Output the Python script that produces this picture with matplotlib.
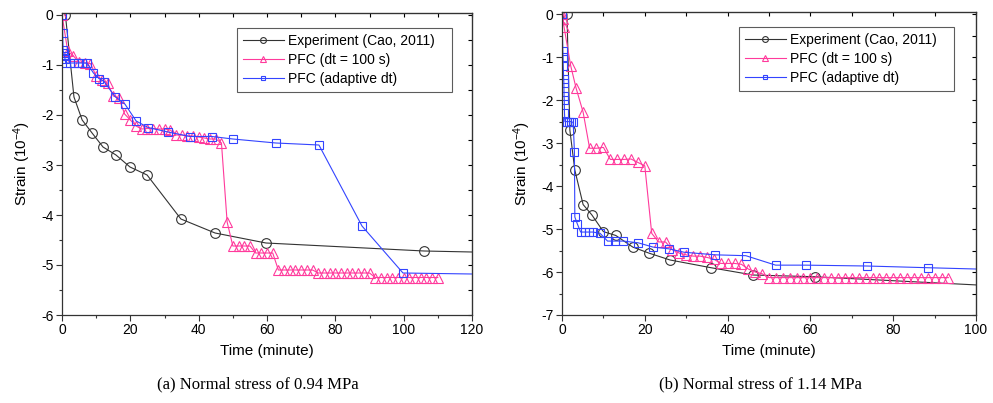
import matplotlib
matplotlib.use("Agg")
import matplotlib.pyplot as plt
from matplotlib.ticker import MultipleLocator

plt.rcParams['font.family'] = ['Liberation Sans', 'DejaVu Sans']
plt.rcParams['mathtext.fontset'] = 'custom'
plt.rcParams['mathtext.rm'] = 'Liberation Sans'
plt.rcParams['mathtext.it'] = 'Liberation Sans:italic'

# ---- (a) normal stress 0.94 MPa ----
a_exp_t = [1, 3.5, 5.9, 8.8, 12, 15.8, 19.9, 24.9, 34.8, 44.8, 59.7, 106, 120]
a_exp_s = [0, -1.64, -2.1, -2.36, -2.64, -2.8, -3.04, -3.2, -4.08, -4.36, -4.56, -4.72, -4.74]

a_dt_t = [0, 1.67, 3.33, 5, 6.67, 8.33, 10, 11.67, 13.33, 15, 16.67, 18.33, 20, 21.67,
          23.33, 25, 26.67, 28.33, 30, 31.67, 33.33, 35, 36.67, 38.33, 40, 41.67, 43.33,
          45, 46.67, 48.33, 50, 51.67, 53.33, 55, 56.67, 58.33, 60, 61.67, 63.33, 65,
          66.67, 68.33, 70, 71.67, 73.33, 75, 76.67, 78.33, 80, 81.67, 83.33, 85, 86.67,
          88.33, 90, 91.67, 93.33, 95, 96.67, 98.33, 100, 101.67, 103.33, 105, 106.67,
          108.33, 110]
a_dt_s = [0, -0.72, -0.82, -0.94, -0.96, -0.97, -1.22, -1.3, -1.36, -1.62, -1.66, -1.98,
          -2.1, -2.22, -2.28, -2.27, -2.27, -2.28, -2.28, -2.3, -2.4, -2.4, -2.42, -2.42,
          -2.44, -2.46, -2.48, -2.48, -2.56, -4.14, -4.62, -4.62, -4.62, -4.62, -4.76,
          -4.76, -4.76, -4.76, -5.1, -5.1, -5.1, -5.1, -5.1, -5.1, -5.1, -5.16, -5.16,
          -5.16, -5.16, -5.16, -5.16, -5.16, -5.16, -5.16, -5.16, -5.25, -5.25, -5.25,
          -5.25, -5.25, -5.25, -5.25, -5.25, -5.25, -5.25, -5.25, -5.25]

a_ad_t = [0, 0.2, 0.3, 0.5, 0.7, 0.9, 1.1, 2.3, 3.5, 4.7, 5.9, 7.3, 9.2, 10.8, 12.3,
          15.5, 18.4, 21.7, 25.2, 31, 37.5, 43.9, 50, 62.6, 75.2, 87.8, 99.8, 120]
a_ad_s = [0, -0.35, -0.7, -0.76, -0.82, -0.88, -0.96, -0.96, -0.96, -0.96, -0.96,
          -0.96, -1.16, -1.27, -1.33, -1.63, -1.78, -2.12, -2.25, -2.34, -2.43, -2.43,
          -2.48, -2.56, -2.6, -4.22, -5.16, -5.18]

# ---- (b) normal stress 1.14 MPa ----
b_exp_t = [1.2, 1.9, 3.1, 5.1, 7.2, 10, 13, 17.1, 21, 26.1, 36, 46.2, 61.1, 100]
b_exp_s = [0, -2.7, -3.63, -4.43, -4.67, -5.06, -5.15, -5.42, -5.56, -5.72, -5.9, -6.07,
           -6.11, -6.3]

b_dt_t = [0, 0.3, 0.5, 2.1, 3.4, 5.1, 6.67, 8.33, 10, 11.67, 13.33, 15, 16.67, 18.33, 20,
          21.67, 23.33, 25, 26.67, 28.33, 30, 31.67, 33.33, 35, 36.67, 38.33, 40, 41.67,
          43.33, 45, 46.67, 48.33, 50, 51.67, 53.33, 55, 56.67, 58.33, 60, 61.67, 63.33,
          65, 66.67, 68.33, 70, 71.67, 73.33, 75, 76.67, 78.33, 80, 81.67, 83.33, 85,
          86.67, 88.33, 90, 91.67, 93.33]
b_dt_s = [0, -0.12, -0.3, -1.2, -1.72, -2.28, -3.12, -3.12, -3.1, -3.38, -3.38, -3.38,
          -3.37, -3.45, -3.53, -5.1, -5.3, -5.3, -5.48, -5.56, -5.6, -5.63, -5.63, -5.66,
          -5.7, -5.8, -5.8, -5.8, -5.82, -5.93, -6.0, -6.04, -6.13, -6.13, -6.13, -6.13,
          -6.13, -6.13, -6.13, -6.13, -6.13, -6.13, -6.13, -6.13, -6.13, -6.13, -6.13,
          -6.13, -6.13, -6.13, -6.13, -6.13, -6.13, -6.13, -6.13, -6.13, -6.13, -6.13,
          -6.13]

b_ad_t = [0, 0.2, 0.25, 0.3, 0.4, 0.45, 0.5, 0.55, 0.6, 0.7, 1.2, 1.7, 2.2, 2.7, 3.0, 3.1,
          3.7, 4.5, 5.5, 6.5, 7.5, 9.2, 11, 12.8, 14.8, 18.4, 22, 25.8, 29.5, 37, 44.4,
          51.6, 58.9, 73.6, 88.4, 100]
b_ad_s = [0, -0.85, -1.0, -1.2, -1.5, -1.6, -1.9, -2.0, -2.3, -2.5, -2.5, -2.5, -2.5,
          -2.52, -3.2, -4.72, -4.88, -5.07, -5.07, -5.07, -5.07, -5.1, -5.28, -5.28, -5.28,
          -5.32, -5.42, -5.46, -5.54, -5.6, -5.62, -5.84, -5.84, -5.86, -5.9, -5.93]

captions = ["(a) Normal stress of 0.94 MPa", "(b) Normal stress of 1.14 MPa"]
labels = ["Experiment (Cao, 2011)   ", "PFC (dt = 100 s)", "PFC (adaptive dt)"]

c_exp = '#333333'
c_pink = '#ff3a9c'
c_blue = '#3344ff'

fig = plt.figure(figsize=(9.93, 4.03), dpi=100)
ax1 = fig.add_axes([62 / 993, 88 / 403, 410 / 993, 302 / 403])
ax2 = fig.add_axes([562 / 993, 88 / 403, 414 / 993, 303 / 403])


def draw(ax, et, es, dt_t, dt_s, ad_t, ad_s, xmax, ymin, ytop, leg_box):
    ax.plot(et, es, color=c_exp, lw=0.8, marker='o', ms=7, mfc='none', mew=0.8,
            markevery=list(range(len(et) - 1)), label=labels[0])
    ax.plot(dt_t, dt_s, color=c_pink, lw=0.8, marker='^', ms=7, mfc='none', mew=0.8,
            label=labels[1])
    ax.plot(ad_t, ad_s, color=c_blue, lw=0.8, marker='s', ms=5.5, mfc='none', mew=0.8,
            markevery=list(range(len(ad_t) - 1)), label=labels[2])
    ax.set_xlim(0, xmax)
    ax.set_ylim(ymin, ytop)
    ax.xaxis.set_major_locator(MultipleLocator(20))
    ax.xaxis.set_minor_locator(MultipleLocator(10))
    ax.yaxis.set_major_locator(MultipleLocator(1))
    ax.yaxis.set_minor_locator(MultipleLocator(0.5))
    ax.tick_params(which='both', direction='out', top=False, right=False, labelsize=10,
                   width=0.8, color='#333333')
    ax.tick_params(which='major', length=4, pad=2)
    ax.tick_params(which='minor', length=2.5)
    # mirrored inward ticks on top and right
    sec_x = ax.secondary_xaxis('top')
    sec_x.xaxis.set_major_locator(MultipleLocator(10))
    sec_x.tick_params(direction='in', length=3, labeltop=False, width=0.8)
    sec_y = ax.secondary_yaxis('right')
    sec_y.yaxis.set_major_locator(MultipleLocator(0.5))
    sec_y.tick_params(direction='in', length=3, labelright=False, width=0.8)
    for sp in ax.spines.values():
        sp.set_linewidth(0.9)
        sp.set_color('#333333')
    ax.set_yticklabels([f"{int(v)}" for v in ax.get_yticks()])
    ax.set_xlabel("Time (minute)", fontsize=11, labelpad=5)
    ax.set_ylabel("Strain (10$^{-4}$)", fontsize=11, labelpad=6)
    leg = ax.legend(loc='upper left', bbox_to_anchor=leg_box, fontsize=10, frameon=True,
                    fancybox=False, edgecolor='#333333', handlelength=2.9,
                    handletextpad=0.3, borderpad=0.45, labelspacing=0.35, markerscale=0.6,
                    borderaxespad=0)
    leg.get_frame().set_linewidth(0.8)


draw(ax1, a_exp_t, a_exp_s, a_dt_t, a_dt_s, a_ad_t, a_ad_s, 120, -6, 0.04,
     ((237 - 62) / 410, (315 - 28) / 302))
draw(ax2, b_exp_t, b_exp_s, b_dt_t, b_dt_s, b_ad_t, b_ad_s, 100, -7, 0.05,
     ((739 - 562) / 414, (315 - 27) / 303))

fig.text(258 / 993, 1 - 384 / 403, captions[0], ha='center', va='center',
         family='Liberation Serif', fontsize=12)
fig.text(760 / 993, 1 - 384 / 403, captions[1], ha='center', va='center',
         family='Liberation Serif', fontsize=12)

fig.savefig("out.png", dpi=100)
